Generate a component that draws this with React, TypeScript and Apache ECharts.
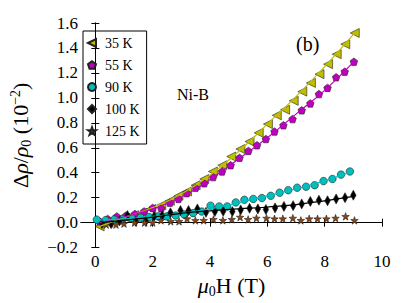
import React, { useEffect, useRef } from "react";
import * as echarts from "echarts";

// ---- data ----
const legendNames = ["35 K", "55 K", "90 K", "100 K", "125 K"];

const field35 = [0.15, 0.45, 0.75, 1.05, 1.35, 1.65, 1.95, 2.3, 2.6, 2.9, 3.2, 3.5, 3.8, 4.1, 4.43, 4.74, 5.06, 5.38, 5.7, 6.02, 6.33, 6.62, 6.92, 7.22, 7.52, 7.82, 8.12, 8.42, 8.72, 9.05];
const drho35 = [-0.03, 0.0, 0.02, 0.04, 0.06, 0.08, 0.11, 0.14, 0.175, 0.215, 0.25, 0.3, 0.35, 0.41, 0.46, 0.53, 0.59, 0.65, 0.72, 0.79, 0.86, 0.905, 0.976, 1.05, 1.12, 1.19, 1.27, 1.35, 1.43, 1.52];

const field55 = [0.15, 0.43, 0.75, 1.07, 1.38, 1.7, 2.0, 2.3, 2.6, 2.9, 3.19, 3.5, 3.8, 4.11, 4.42, 4.72, 5.03, 5.34, 5.64, 5.95, 6.25, 6.56, 6.88, 7.2, 7.5, 7.8, 8.1, 8.4, 8.7, 9.02];
const drho55 = [0.01, 0.03, 0.05, 0.057, 0.07, 0.09, 0.118, 0.115, 0.16, 0.19, 0.236, 0.28, 0.315, 0.365, 0.41, 0.46, 0.52, 0.575, 0.62, 0.67, 0.73, 0.78, 0.83, 0.9, 0.955, 1.03, 1.08, 1.165, 1.21, 1.29];

const field90 = [0.05, 0.36, 0.66, 0.97, 1.27, 1.58, 1.88, 2.19, 2.49, 2.8, 3.1, 3.41, 3.71, 4.02, 4.32, 4.6, 4.9, 5.2, 5.51, 5.81, 6.12, 6.43, 6.73, 7.04, 7.35, 7.65, 7.96, 8.27, 8.57, 8.88];
const drho90 = [0.024, 0.02, 0.025, 0.03, 0.035, 0.04, 0.045, 0.05, 0.05, 0.057, 0.065, 0.076, 0.089, 0.136, 0.13, 0.13, 0.162, 0.183, 0.19, 0.197, 0.215, 0.24, 0.26, 0.28, 0.288, 0.3, 0.333, 0.35, 0.385, 0.41];

const field100 = [0.23, 0.55, 0.84, 1.12, 1.41, 1.76, 2.05, 2.33, 2.62, 2.97, 3.25, 3.56, 3.86, 4.17, 4.46, 4.78, 5.07, 5.38, 5.67, 5.95, 6.27, 6.58, 6.9, 7.2, 7.5, 7.8, 8.1, 8.4, 8.71, 9.0];
const drho100 = [-0.008, -0.008, 0.013, 0.057, 0.01, 0.01, 0.05, 0.057, 0.079, 0.097, 0.097, 0.11, 0.083, 0.089, 0.091, 0.089, 0.102, 0.115, 0.11, 0.105, 0.118, 0.13, 0.136, 0.15, 0.17, 0.18, 0.175, 0.19, 0.2, 0.22];

const field125 = [0.38, 0.72, 1.0, 1.37, 1.72, 2.0, 2.29, 2.63, 2.92, 3.2, 3.49, 3.78, 4.12, 4.45, 4.76, 5.05, 5.33, 5.62, 5.97, 6.25, 6.54, 6.89, 7.17, 7.46, 7.75, 8.06, 8.38, 8.73, 9.04];
const drho125 = [-0.016, -0.016, -0.008, 0.0, 0.0, 0.0, 0.018, 0.01, 0.01, 0.031, 0.018, 0.018, 0.026, 0.018, 0.026, 0.044, 0.026, 0.036, 0.036, 0.031, 0.031, 0.036, 0.018, 0.031, 0.031, 0.031, 0.036, 0.05, 0.018];

// fitted curves
const fitField35 = [0.15, 1, 2, 3, 4, 5, 6, 7, 8, 9.05];
const fitDrho35 = [-0.03, 0.04, 0.12, 0.23, 0.38, 0.57, 0.79, 1.01, 1.25, 1.52];
const fitField55 = [0.15, 1, 2, 3, 4, 5, 6, 7, 8, 9.02];
const fitDrho55 = [0.0, 0.045, 0.11, 0.205, 0.345, 0.51, 0.68, 0.87, 1.06, 1.29];
const fitField90 = [0.05, 1, 2, 3, 4, 5, 6, 7, 8, 8.88];
const fitDrho90 = [0.02, 0.03, 0.05, 0.075, 0.11, 0.16, 0.215, 0.27, 0.335, 0.405];
const fitField100 = [0.23, 1, 2, 3, 4, 5, 6, 7, 8, 9.0];
const fitDrho100 = [0.0, 0.02, 0.045, 0.075, 0.095, 0.11, 0.125, 0.145, 0.175, 0.21];

const xTicks = [0, 2, 4, 6, 8, 10];

const FONT = "Liberation Serif";
const triLeft = "path://M0,5L10,0L10,10Z";
const pentagon = "path://M0,-1L0.951,-0.309L0.588,0.809L-0.588,0.809L-0.951,-0.309Z";
const star =
  "path://M0,-1L0.235,-0.324L0.951,-0.309L0.38,0.124L0.588,0.809L0,0.4L-0.588,0.809L-0.38,0.124L-0.951,-0.309L-0.235,-0.324Z";

const zip = (xs: number[], ys: number[]) => xs.map((x, i) => [x, ys[i]]);

export default function App() {
  const ref = useRef<HTMLDivElement>(null);
  useEffect(() => {
    if (!ref.current) return;
    const chart = echarts.init(ref.current, null, { renderer: "svg" });
    const edge = { borderColor: "#222", borderWidth: 0.6 };
    const fitLine = (name: string, data: number[][], color: string) => ({
      name: name + "-fit",
      type: "line",
      data,
      smooth: true,
      showSymbol: false,
      symbol: "none",
      lineStyle: { color, width: 1.2 },
      z: 3,
      silent: true,
    });
    const tickStyle = { inside: true, length: 4, lineStyle: { color: "#000", width: 1 } };
    chart.setOption({
      animation: false,
      backgroundColor: "#fff",
      textStyle: { fontFamily: FONT },
      grid: { left: 75, right: 21, top: 23, bottom: 51 },
      legend: {
        data: legendNames,
        orient: "vertical",
        left: 83,
        top: 31,
        padding: [5, 7, 6, 4],
        itemWidth: 8,
        itemHeight: 8,
        itemGap: 8,
        borderColor: "#000",
        borderWidth: 1,
        borderRadius: 0,
        textStyle: { fontFamily: FONT, fontSize: 14, color: "#000", padding: [0, 0, 0, 4] },
      },
      xAxis: [
        {
          type: "value",
          min: -0.5,
          max: 10,
          name: "{i|μ}{s|0}{a|H (T)}",
          nameLocation: "middle",
          nameGap: 17,
          nameTextStyle: {
            rich: {
              i: { fontFamily: FONT, fontStyle: "italic", fontSize: 22, lineHeight: 25, color: "#000" },
              a: { fontFamily: FONT, fontSize: 22, lineHeight: 25, color: "#000" },
              s: { fontFamily: FONT, fontSize: 14, lineHeight: 14, verticalAlign: "bottom", color: "#000" },
            },
          },
          splitLine: { show: false },
          axisLine: { lineStyle: { color: "#000", width: 1 } },
          axisTick: { ...tickStyle, customValues: xTicks },
          axisLabel: {
            customValues: xTicks,
            fontFamily: FONT,
            fontSize: 17,
            color: "#000",
            margin: 5,
          },
        },
        {
          type: "value",
          min: -0.5,
          max: 10,
          position: "top",
          splitLine: { show: false },
          axisLine: { lineStyle: { color: "#000", width: 1 } },
          axisTick: { ...tickStyle, customValues: xTicks },
          axisLabel: { show: false },
        },
      ],
      yAxis: [
        {
          type: "value",
          min: -0.2,
          max: 1.6,
          interval: 0.2,
          name: "{a|Δ}{i|ρ}{a|/}{i|ρ}{s|0}{a| (10}{p|−2}{a|)}",
          nameLocation: "middle",
          nameRotate: 90,
          nameGap: 48,
          nameTextStyle: {
            rich: {
              i: { fontFamily: FONT, fontStyle: "italic", fontSize: 22, lineHeight: 25, color: "#000" },
              a: { fontFamily: FONT, fontSize: 22, lineHeight: 25, color: "#000" },
              s: { fontFamily: FONT, fontSize: 14, lineHeight: 14, verticalAlign: "bottom", color: "#000" },
              p: { fontFamily: FONT, fontSize: 14, lineHeight: 14, verticalAlign: "top", color: "#000" },
            },
          },
          splitLine: { show: false },
          axisLine: { show: true, lineStyle: { color: "#000", width: 1 } },
          axisTick: tickStyle,
          axisLabel: {
            fontFamily: FONT,
            fontSize: 17,
            color: "#000",
            margin: 3,
            formatter: (v: number) => v.toFixed(1).replace("-", "−"),
          },
        },
        {
          type: "value",
          min: -0.2,
          max: 1.6,
          interval: 0.2,
          position: "right",
          splitLine: { show: false },
          axisLine: { show: true, lineStyle: { color: "#000", width: 1 } },
          axisTick: tickStyle,
          axisLabel: { show: false },
        },
      ],
      graphic: [
        {
          type: "text",
          left: 296,
          top: 34,
          style: { text: "(b)", fontFamily: FONT, fontSize: 20, fill: "#000" },
        },
        {
          type: "text",
          left: 177,
          top: 86,
          style: { text: "Ni-B", fontFamily: FONT, fontSize: 16, fill: "#000" },
        },
      ],
      series: [
        {
          name: "35 K",
          type: "scatter",
          data: zip(field35, drho35),
          symbol: triLeft,
          symbolSize: 9,
          itemStyle: { color: "#bfbf00", ...edge, opacity: 1 },
        },
        {
          name: "55 K",
          type: "scatter",
          data: zip(field55, drho55),
          symbol: pentagon,
          symbolSize: 7.5,
          itemStyle: { color: "#bf00bf", ...edge, opacity: 1 },
        },
        {
          name: "90 K",
          type: "scatter",
          data: zip(field90, drho90),
          symbol: "circle",
          symbolSize: 7.5,
          itemStyle: { color: "#00bfbf", ...edge, opacity: 1 },
        },
        {
          name: "100 K",
          type: "scatter",
          data: zip(field100, drho100),
          symbol: "diamond",
          symbolSize: [5.5, 10],
          itemStyle: { color: "#000", ...edge, opacity: 1 },
        },
        {
          name: "125 K",
          type: "scatter",
          data: zip(field125, drho125),
          symbol: star,
          symbolSize: 7.5,
          itemStyle: { color: "#8b4513", ...edge, opacity: 1 },
        },
        fitLine("35 K", zip(fitField35, fitDrho35), "#bfbf00"),
        fitLine("55 K", zip(fitField55, fitDrho55), "#bf00bf"),
        fitLine("90 K", zip(fitField90, fitDrho90), "#00bfbf"),
        fitLine("100 K", zip(fitField100, fitDrho100), "#000"),
      ],
    });
    return () => chart.dispose();
  }, []);
  return <div ref={ref} style={{ width: 403, height: 303, position: "absolute", left: 0, top: 0 }} />;
}
